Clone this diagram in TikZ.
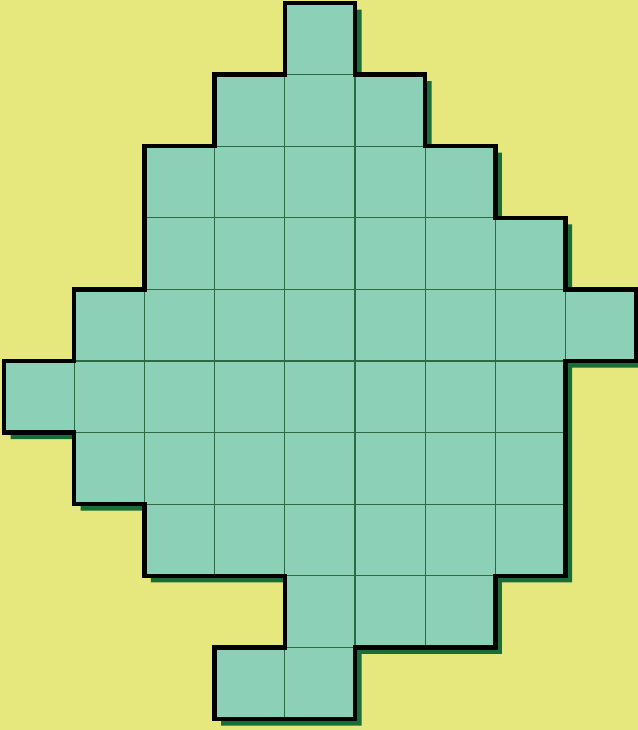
\documentclass[tikz,border=0pt]{standalone}
\usetikzlibrary{calc}
\definecolor{bgyellow}{RGB}{230,232,125}
\definecolor{tilegreen}{RGB}{140,208,184}
\definecolor{gridline}{RGB}{45,105,65}
\definecolor{shadowgreen}{RGB}{25,110,55}
\tikzset{
    tile/.style={fill=tilegreen, draw=gridline, line width=0.6pt},
    outline/.style={draw=black, line width=2.6pt, line join=miter},
    shadowfill/.style={fill=shadowgreen}
}
% outline of the whole shape, in cell units
\def\shapepath{(4,0) -- (5,0) -- (5,1) -- (6,1) -- (6,2) -- (7,2) -- (7,3) -- (8,3) -- (8,4) -- (9,4) -- (9,5) -- (8,5) -- (8,8) -- (7,8) -- (7,9) -- (5,9) -- (5,10) -- (3,10) -- (3,9) -- (4,9) -- (4,8) -- (2,8) -- (2,7) -- (1,7) -- (1,6) -- (0,6) -- (0,5) -- (1,5) -- (1,4) -- (2,4) -- (2,2) -- (3,2) -- (3,1) -- (4,1) -- cycle}
\begin{document}
\begin{tikzpicture}
    \fill[bgyellow] (0,0) rectangle (12.76,-14.6);
    \useasboundingbox (0,0) rectangle (12.76,-14.6);
    \begin{scope}[shift={(0.08,-0.06)}, x=1.404cm, y=-1.432cm]
        % shadow
        \path[shadowfill, shift={(0.13cm,-0.13cm)}] \shapepath;
        % cells: row / first column / last column
        \foreach \r/\a/\b in {0/4/4, 1/3/5, 2/2/6, 3/2/7, 4/1/8, 5/0/7, 6/1/7, 7/2/7, 8/4/6, 9/3/4}{
            \foreach \c in {\a,...,\b}{
                \draw[tile] (\c,\r) rectangle ++(1,1);
            }
        }
        \draw[outline] \shapepath;
    \end{scope}
\end{tikzpicture}
\end{document}
